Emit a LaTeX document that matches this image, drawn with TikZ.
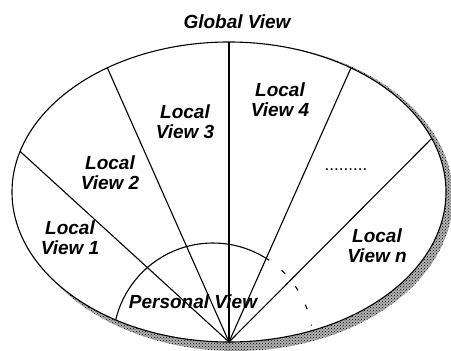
\documentclass[tikz,border=0pt]{standalone}
\usepackage{fontspec}
\setmainfont{Liberation Sans}
\usepackage{tikz}
\usetikzlibrary{patterns}

\begin{document}
\begin{tikzpicture}[x=1pt,y=1pt,
		view/.style={font=\fontsize{19}{20}\selectfont\bfseries\itshape, align=center, inner sep=0pt},
		edge/.style={line width=1.1pt}]
		\useasboundingbox (0,0) rectangle (451,351);

		% shadow and outer ellipse (global view)
		\fill[black!30] (236,154) ellipse [x radius=217, y radius=154];
		\fill[pattern=crosshatch dots, pattern color=black] (236,154) ellipse [x radius=217, y radius=154];
		\draw[edge, fill=white] (229,159) ellipse [x radius=217, y radius=150];
		\node[view] (global) at (237,329) {Global View};

		% apex and border points of the sectors
		\coordinate (o) at (229,9);
		\coordinate (b1) at ([shift={(229,159)}]164.3:217 and 150);
		\coordinate (b2) at ([shift={(229,159)}]124.1:217 and 150);
		\coordinate (b3) at (229,309);
		\coordinate (b4) at ([shift={(229,159)}]55.8:217 and 150);
		\coordinate (b5) at ([shift={(229,159)}]20.9:217 and 150);
		\draw[edge] (o) -- (b1);
		\draw[edge] (o) -- (b2);
		\draw[edge] (o) -- (b3);
		\draw[edge] (o) -- (b4);
		\draw[edge] (o) -- (b5);

		% personal view
		\coordinate (pc) at (213,8);
		\coordinate (pa) at ([shift={(pc)}]166.7:100);
		\coordinate (pb) at ([shift={(pc)}]55.8:100);
		\draw[edge] (pa) arc[start angle=166.7, end angle=55.8, radius=100];
		\draw[edge, dash pattern=on 5pt off 16pt, dash phase=5pt] (pb) arc[start angle=55.8, end angle=10, radius=100];
		\node[view] (personal) at (193,49) {Personal View};

		% local views
		\node[view] (lv1) at (70,113) {Local\\View 1};
		\node[view] (lv2) at (110,178) {Local\\View 2};
		\node[view] (lv3) at (185,229) {Local\\View 3};
		\node[view] (lv4) at (280,251) {Local\\View 4};
		\node[view] (lvn) at (377,105) {Local\\View \textit{n}};
		\node[view, font=\fontsize{17}{17}\selectfont] (more) at (346,181) {.........};
	\end{tikzpicture}
\end{document}
